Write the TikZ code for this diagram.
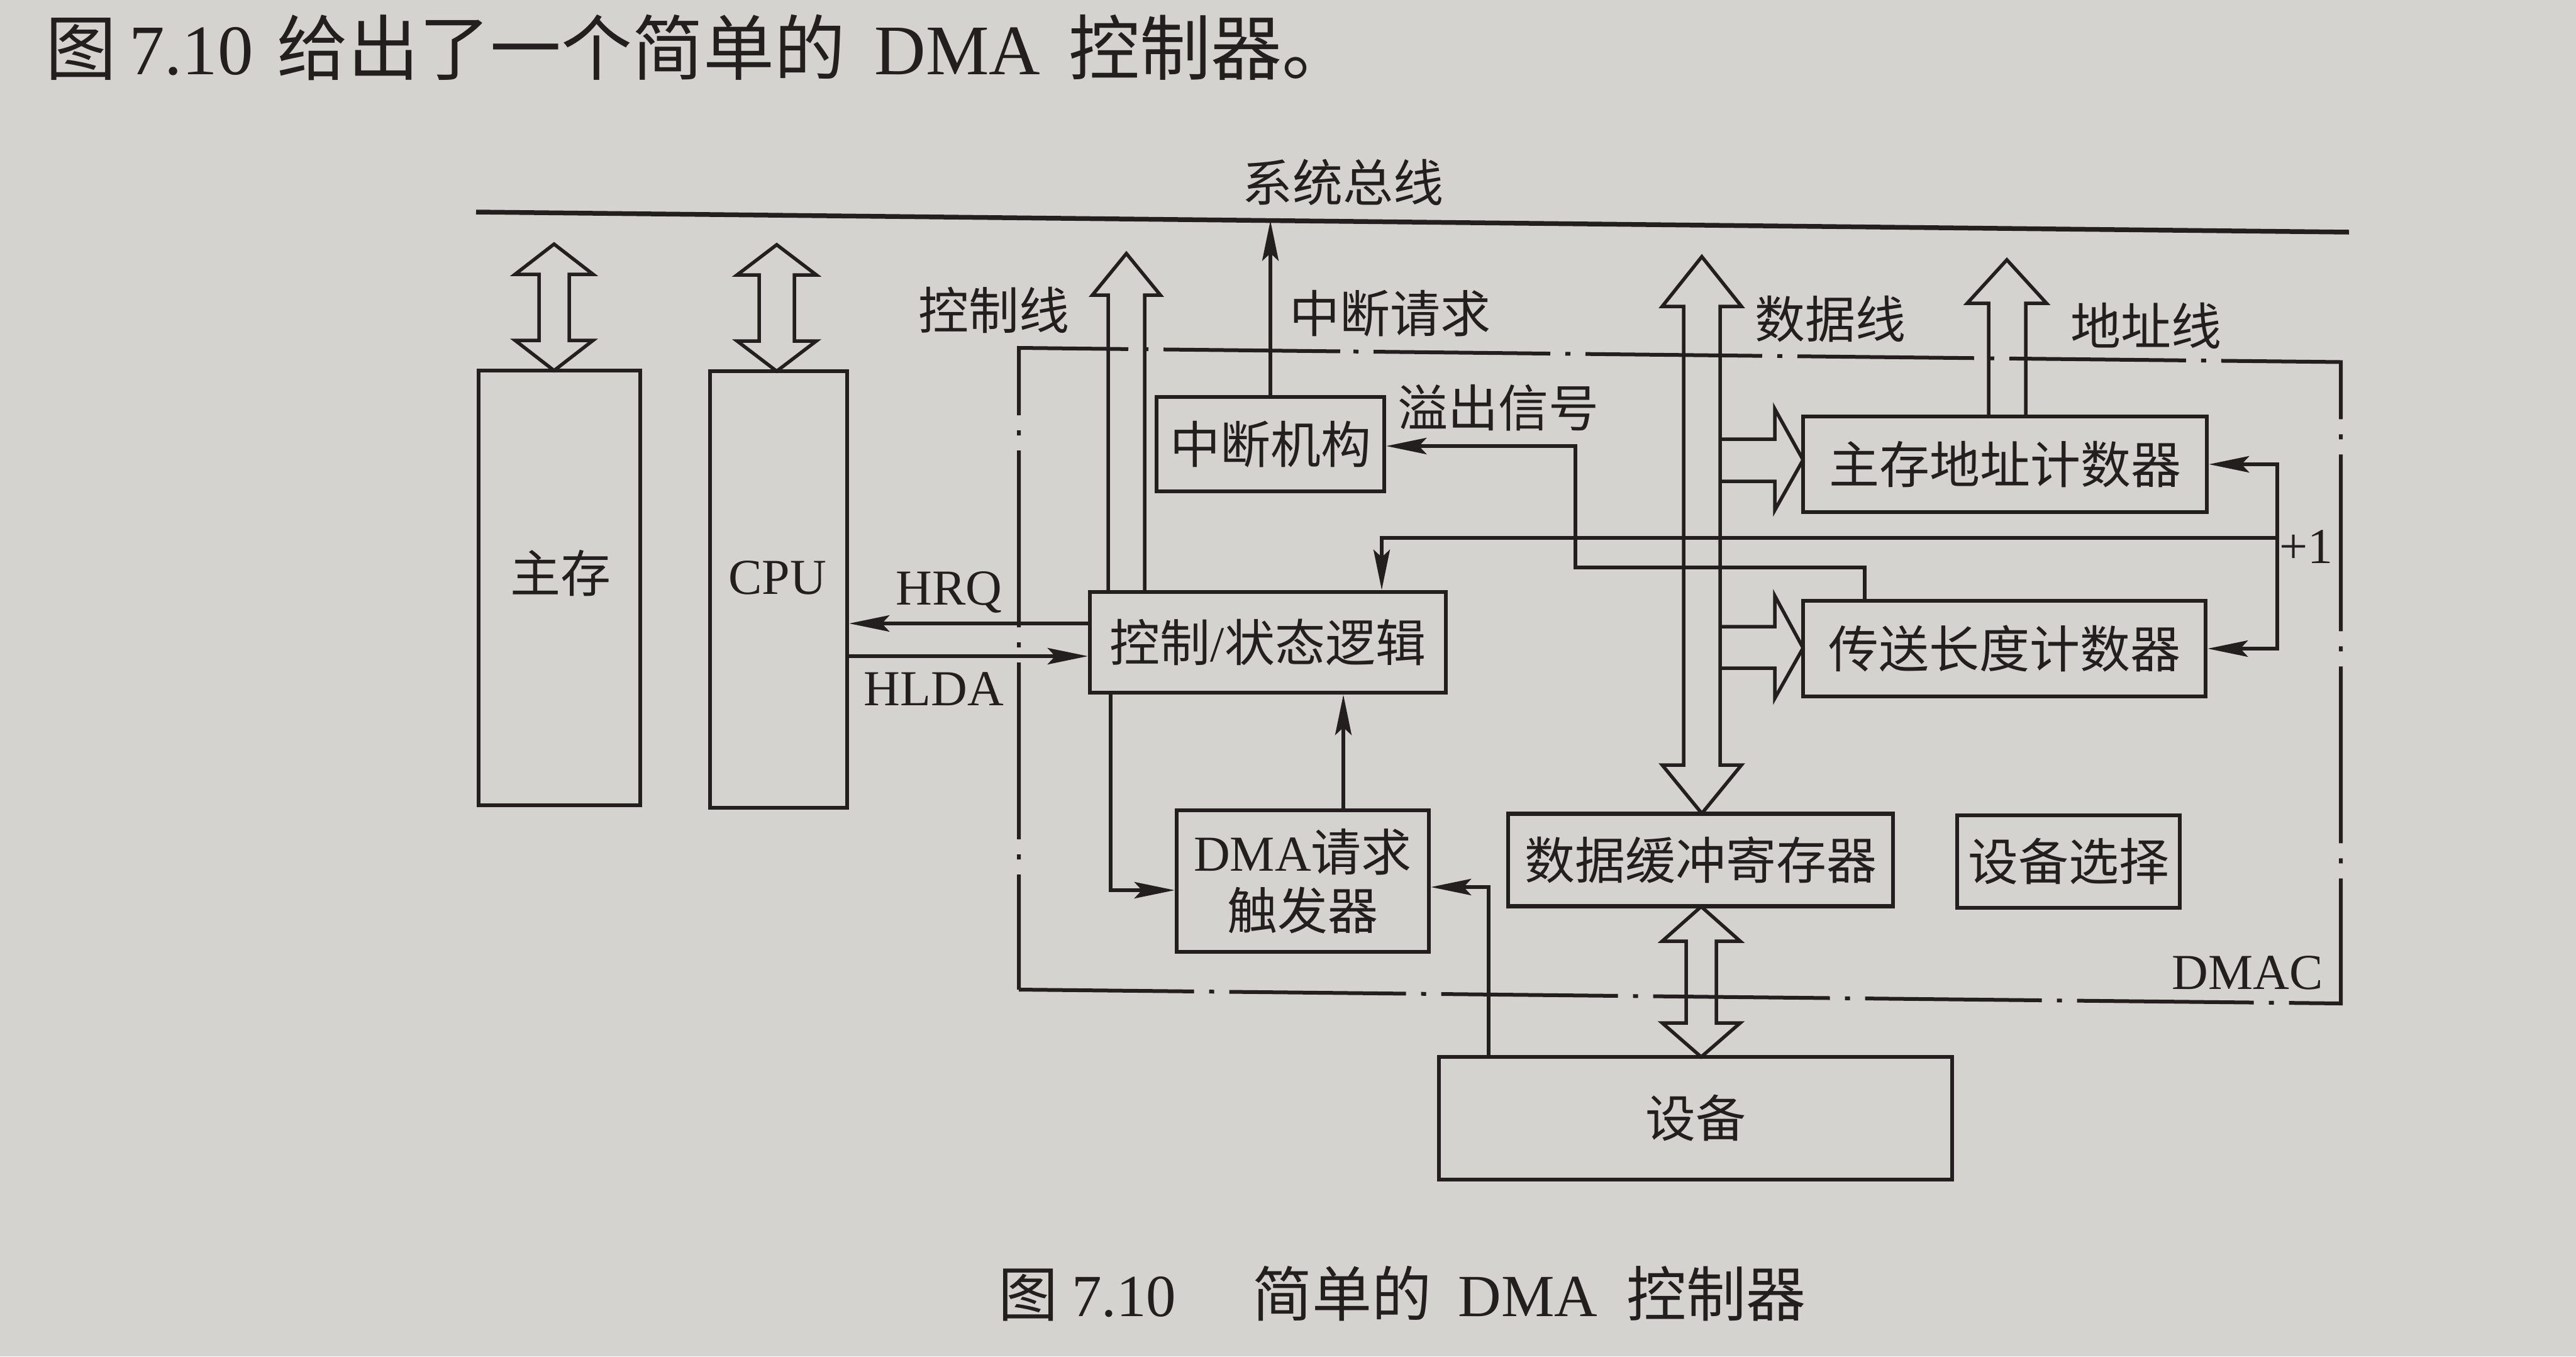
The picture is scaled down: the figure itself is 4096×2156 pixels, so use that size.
\documentclass[tikz,border=0pt]{standalone}
\usepackage{fontspec}
\setmainfont{Liberation Serif}
\newfontfamily\cjk{Noto Sans CJK SC}
\usetikzlibrary{arrows.meta}
\definecolor{ink}{RGB}{36,31,31}
\definecolor{paper}{RGB}{213,211,207}
\newcommand\labfont{\fontsize{80pt}{93pt}\selectfont}
\tikzset{
  box/.style={draw=ink, line width=6.5pt, rectangle, inner sep=0pt, text=ink, font=\labfont},
  lbl/.style={inner sep=0pt, text=ink, font=\labfont},
  sig/.style={draw=ink, line width=5.5pt},
  tip/.style={-{Stealth[length=64pt,width=26pt,inset=12pt]}},
  fat/.style={draw=ink, line width=5.5pt, line join=miter},
  busline/.style={draw=ink, line width=7.5pt},
  dmacline/.style={draw=ink, line width=6pt, dash pattern=on 8pt off 24pt on 281pt off 24pt}
}
\begin{document}
\begin{tikzpicture}[x=1pt,y=-1pt]
\fill[paper] (0,0) rectangle (4096,2156);
\useasboundingbox (0,0) rectangle (4096,2156);

% title and caption
\node[anchor=base west, inner sep=0pt, text=ink, font=\fontsize{113pt}{130pt}\selectfont] (title) at (72,118)
  {{\cjk 图}\hspace{20pt}7.10\hspace{38pt}{\cjk 给出了一个简单的}\hspace{46pt}DMA\hspace{45pt}{\cjk 控制器。}};
\node[anchor=base west, inner sep=0pt, text=ink, font=\fontsize{95pt}{110pt}\selectfont] (caption) at (1587,2092)
  {{\cjk 图}\hspace{22pt}7.10\hspace{121pt}{\cjk 简单的}\hspace{42pt}DMA\hspace{46pt}{\cjk 控制器}};

% system bus
\coordinate (busL) at (757,337);
\coordinate (busR) at (3735,369);
\draw[busline] (busL) -- (busR);
\node[lbl] (busT) at (2135,290) {\cjk 系统总线};

% DMAC dash-dot frame
\draw[dmacline] (2152,558.7) -- (3722,575.5) -- (3722,1595) -- (1620,1573);
\draw[dmacline, dash phase=130pt] (1620,1573) -- (1620,553) -- (2152,558.7);
\node[lbl, anchor=base east] (dmacT) at (3694,1572) {DMAC};

% boxes
\node[box, minimum width=257pt, minimum height=691pt] (main) at (889.5,934.5) {};
\node[lbl] (mainT) at (891,911) {\cjk 主存};
\node[box, minimum width=218pt, minimum height=694pt] (cpu) at (1238,937) {};
\node[lbl, anchor=base] (cpuT) at (1236,944) {CPU};
\node[box, minimum width=362pt, minimum height=150pt] (intr) at (2020,706) {\cjk 中断机构};
\node[box, minimum width=566pt, minimum height=160pt] (ctrl) at (2016,1021) {{\cjk 控制}/{\cjk 状态逻辑}};
\node[box, minimum width=401pt, minimum height=225pt, align=center] (dmareq) at (2071.5,1400.5) {DMA{\cjk 请求}\\{\cjk 触发器}};
\node[box, minimum width=642pt, minimum height=152pt] (addrcnt) at (3188,738) {\cjk 主存地址计数器};
\node[box, minimum width=640pt, minimum height=152pt] (lencnt) at (3187,1031) {\cjk 传送长度计数器};
\node[box, minimum width=612pt, minimum height=147pt] (databuf) at (2704,1367) {\cjk 数据缓冲寄存器};
\node[box, minimum width=354pt, minimum height=147pt] (devsel) at (3289,1369.5) {\cjk 设备选择};
\node[box, minimum width=816pt, minimum height=195pt] (dev) at (2696,1777.5) {\cjk 设备};

% labels
\node[lbl] (ctlT) at (1580,493) {\cjk 控制线};
\node[lbl] (irqT) at (2210,498) {\cjk 中断请求};
\node[lbl] (ovfT) at (2382,648) {\cjk 溢出信号};
\node[lbl] (dataT) at (2910,507) {\cjk 数据线};
\node[lbl] (addrT) at (3412,518) {\cjk 地址线};
\node[lbl, anchor=base] (hrqT) at (1509,961) {HRQ};
\node[lbl, anchor=base] (hldaT) at (1485,1121) {HLDA};
\node[lbl, anchor=base west] (plusT) at (3624,895) {+1};

% hollow bus arrows
\draw[fat] (881,388) -- (943,436) -- (905,436) -- (905,541) -- (943,541) -- (881,589) -- (819,541) -- (857,541) -- (857,436) -- (819,436) -- cycle;
\draw[fat] (1235,389) -- (1298,437) -- (1263,437) -- (1263,542) -- (1298,542) -- (1235,590) -- (1172,542) -- (1207,542) -- (1207,437) -- (1172,437) -- cycle;
\draw[fat] (1762,941) -- (1762,469) -- (1737,469) -- (1791,403) -- (1845,469) -- (1820,469) -- (1820,941);
\draw[fat] (2706,408) -- (2769,487) -- (2735,487) -- (2735,1216) -- (2769,1216) -- (2706,1293) -- (2643,1216) -- (2677,1216) -- (2677,487) -- (2643,487) -- cycle;
\draw[fat] (3162,662) -- (3162,482) -- (3128,482) -- (3191,413) -- (3254,482) -- (3221,482) -- (3221,662);
\draw[fat] (2705,1441) -- (2767,1496) -- (2729,1496) -- (2729,1626) -- (2767,1626) -- (2705,1680) -- (2643,1626) -- (2681,1626) -- (2681,1496) -- (2643,1496) -- cycle;
\draw[fat] (2735,698) -- (2822,698) -- (2822,650) -- (2867,731) -- (2822,811) -- (2822,765) -- (2735,765);
\draw[fat] (2735,996) -- (2822,996) -- (2822,947) -- (2867,1030) -- (2822,1110) -- (2822,1062) -- (2735,1062);

% signal lines
\coordinate (irqtip) at (2020,350.5);
\draw[sig,tip] (intr.north) -- (irqtip);

\coordinate (ovfA) at (2965,902);
\coordinate (ovfB) at (2505,709);
\draw[sig,tip] (lencnt.north -| ovfA) -- (ovfA) -| (ovfB) -- (intr.east |- ovfB);

\coordinate (plus) at (3621,855);
\coordinate (plusX) at (2197,855);
\draw[sig,tip] (plus) -- (plusX) -- (ctrl.north -| plusX);
\draw[sig,tip] (plus) |- (addrcnt.east);
\draw[sig,tip] (plus) |- (lencnt.east);

\coordinate (hrqY) at (1540,991);
\coordinate (hldaY) at (1540,1043);
\draw[sig,tip] (ctrl.west |- hrqY) -- (cpu.east |- hrqY);
\draw[sig,tip] (cpu.east |- hldaY) -- (ctrl.west |- hldaY);

\coordinate (trigA) at (1766,1415);
\draw[sig,tip] (ctrl.south -| trigA) |- (dmareq.west |- trigA);
\coordinate (trigB) at (2136,1200);
\draw[sig,tip] (dmareq.north -| trigB) -- (ctrl.south -| trigB);
\coordinate (devT) at (2367,1410);
\draw[sig,tip] (dev.north -| devT) |- (dmareq.east |- devT);
\end{tikzpicture}
\end{document}
